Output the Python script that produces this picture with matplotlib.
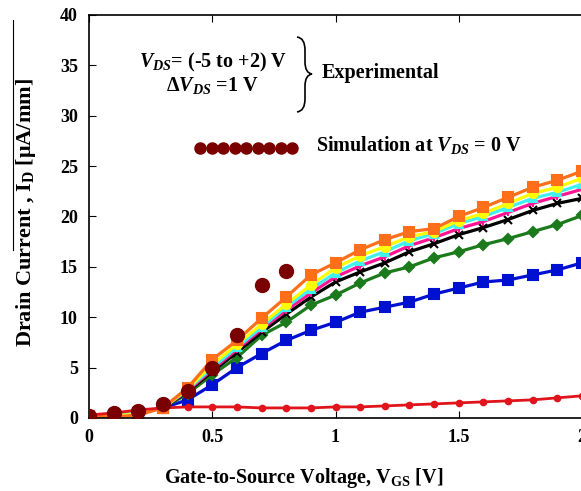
import numpy as np
import matplotlib.pyplot as plt
from matplotlib.path import Path
from matplotlib.patches import PathPatch
from matplotlib.lines import Line2D

plt.rcParams['font.family'] = ['Liberation Serif', 'DejaVu Serif']
plt.rcParams['font.weight'] = 'bold'
plt.rcParams['mathtext.fontset'] = 'custom'
plt.rcParams['mathtext.rm'] = 'Liberation Serif:bold'
plt.rcParams['mathtext.it'] = 'Liberation Serif:italic:bold'
plt.rcParams['mathtext.bf'] = 'Liberation Serif:bold'

# gate voltage steps
vgs = np.round(np.arange(0, 2.01, 0.1), 1)

# experimental curves, V_DS = -5 ... +2 V
id_red = [0.3, 0.5, 0.8, 1.0, 1.1, 1.1, 1.1, 1.0, 1.0, 1.0, 1.1, 1.1, 1.2, 1.3, 1.4, 1.5, 1.6, 1.7, 1.8, 2.0, 2.2]
id_blue = [0.2, 0.3, 0.5, 1.0, 1.8, 3.3, 5.0, 6.4, 7.7, 8.7, 9.5, 10.5, 11.0, 11.5, 12.3, 12.9, 13.5, 13.7, 14.2, 14.7, 15.4]
id_green = [0.2, 0.3, 0.5, 1.0, 2.4, 4.3, 6.0, 8.2, 9.5, 11.2, 12.2, 13.4, 14.4, 15.0, 15.9, 16.5, 17.2, 17.8, 18.5, 19.2, 20.1]
id_black = [0.2, 0.3, 0.5, 1.0, 2.6, 4.6, 6.5, 8.5, 10.3, 12.0, 13.5, 14.5, 15.4, 16.5, 17.3, 18.2, 18.9, 19.7, 20.6, 21.3, 21.8]
id_pink = [0.2, 0.3, 0.5, 1.0, 2.7, 4.8, 6.8, 8.8, 10.7, 12.4, 14.0, 15.1, 16.0, 17.1, 17.9, 18.8, 19.5, 20.4, 21.3, 22.0, 22.7]
id_cyan = [0.2, 0.3, 0.5, 1.0, 2.8, 5.0, 7.0, 9.0, 11.0, 12.8, 14.4, 15.6, 16.5, 17.6, 18.3, 19.3, 20.0, 20.9, 21.8, 22.4, 23.2]
id_yellow = [0.2, 0.2, 0.4, 1.0, 2.9, 5.3, 7.3, 9.3, 11.3, 13.2, 14.9, 16.1, 17.0, 18.0, 18.5, 19.6, 20.3, 21.3, 22.3, 22.9, 23.8]
id_orange = [0.2, 0.1, 0.3, 1.0, 3.0, 5.8, 7.7, 9.9, 12.0, 14.2, 15.4, 16.7, 17.7, 18.5, 18.8, 20.0, 20.9, 21.9, 22.9, 23.6, 24.5]

# simulation at V_DS = 0 V
vgs_sim = [0, 0.1, 0.2, 0.3, 0.4, 0.5, 0.6, 0.7, 0.8]
id_sim = [0.2, 0.5, 0.7, 1.4, 2.7, 5.0, 8.2, 13.2, 14.6]

W, H = 581, 491
fig = plt.figure(figsize=(W / 100, H / 100), dpi=100)
ax = fig.add_axes([89 / W, 73 / H, 493 / W, 403 / H])

curves = [
    (id_blue, '#0010d0', 's', 6.5),
    (id_green, '#1b7a1b', 'D', 5),
    (id_black, 'black', 'x', 6),
    (id_pink, '#ff1493', '|', 6),
    (id_cyan, '#40f0f0', '^', 5.5),
    (id_yellow, '#ffff00', 'o', 6.5),
    (id_orange, '#ff6f1a', 's', 7),
]
for ys, c, m, ms in curves:
    ax.plot(vgs, ys, color=c, lw=2.3, marker=m, ms=ms, mec=c, mfc=c, mew=1.5)
ax.plot(vgs, id_red, color='#e0141a', lw=2, marker='o', ms=4.5, zorder=3)
ax.plot(vgs_sim, id_sim, ls='none', marker='o', ms=10, color='#7a0000', zorder=5)

ax.set_xlim(0, 2)
ax.set_ylim(0, 40)
ax.set_xticks([0, 0.5, 1, 1.5, 2])
ax.set_xticklabels(['0', '0.5', '1', '1.5', '2'])
ax.set_yticks(range(0, 41, 5))
ax.tick_params(direction='in', top=True, labelsize=13, length=5, pad=8)
ax.spines['right'].set_visible(False)
for s in ax.spines.values():
    s.set_linewidth(1.2)

ax.set_xlabel('Gate-to-Source Voltage, V$_{\\mathrm{GS}}$ [V]', fontsize=14.5, fontweight='bold')
ax.xaxis.set_label_coords(0.436, -0.118)
ax.set_ylabel('Drain Current , I$_{\\mathrm{D}}$ [μA/mm]', fontsize=16, fontweight='bold')
ax.yaxis.set_label_coords(-0.104, 0.51)

# annotation
fig.text(213 / W, 1 - 62 / H, '$V_{DS}$= (-5 to +2) V', ha='center', va='center', fontsize=14.5)
fig.text(212 / W, 1 - 85 / H, 'Δ$V_{DS}$ =1 V', ha='center', va='center', fontsize=14.5)
fig.text(322 / W, 1 - 73 / H, 'Experimental', ha='left', va='center', fontsize=14.5)

def px(x, y):
    return (x / W, 1 - y / H)

verts = [px(297, 37), px(305, 38), px(305, 50), px(305, 62),
         px(305, 73), px(312, 74),
         px(305, 75), px(305, 86), px(305, 99),
         px(305, 111), px(297, 112)]
codes = [Path.MOVETO, Path.CURVE3, Path.CURVE3, Path.LINETO,
         Path.CURVE3, Path.CURVE3,
         Path.CURVE3, Path.CURVE3, Path.LINETO,
         Path.CURVE3, Path.CURVE3]
fig.add_artist(PathPatch(Path(verts, codes), transform=fig.transFigure,
                         fill=False, lw=1.2, color='black'))

# simulation legend
lx = np.linspace(200, 292, 9) / W
fig.add_artist(Line2D(lx, [1 - 148 / H] * 9, ls='none', marker='o', ms=8,
                      color='#7a0000', transform=fig.transFigure))
fig.text(316 / W, 1 - 145 / H, 'Simulation at $V_{DS}$ = 0 V', ha='left', va='center', fontsize=14.5)

# stray line beside y label
fig.add_artist(Line2D([13 / W, 13 / W], [1 - 20 / H, 1 - 250 / H], color='black', lw=0.8,
                      transform=fig.transFigure))

fig.savefig('out.png', dpi=100)
